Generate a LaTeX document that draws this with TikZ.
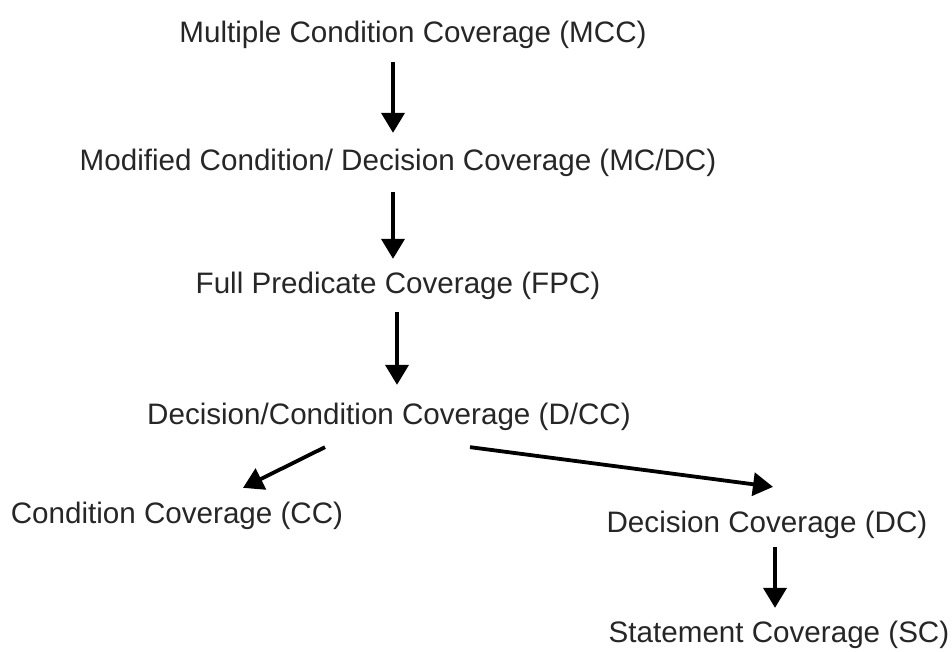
\documentclass[tikz,border=0pt]{standalone}
\usepackage{fontspec}
\setmainfont{Liberation Sans}
\usetikzlibrary{arrows.meta,calc}
\tikzset{
  lbl/.style={inner sep=0pt, anchor=base, text=black!85, font=\fontsize{29.6}{32}\selectfont},
  arr/.style={line width=3.8pt, -{Triangle[length=20pt,width=23pt]}}
}
\begin{document}
\begin{tikzpicture}[x=1pt,y=-1pt]
\useasboundingbox (0,0) rectangle (952,651);
\node[lbl] (mcc)  at (413,42)  {Multiple Condition Coverage (MCC)};
\node[lbl] (mcdc) at (398,170) {Modified Condition/ Decision Coverage (MC/DC)};
\node[lbl] (fpc)  at (398,293) {Full Predicate Coverage (FPC)};
\node[lbl] (dcc)  at (389,424) {Decision/Condition Coverage (D/CC)};
\node[lbl] (cc)   at (177,523) {Condition Coverage (CC)};
\node[lbl] (dc)   at (767,532) {Decision Coverage (DC)};
\node[lbl] (sc)   at (779,642) {Statement Coverage (SC)};
\draw[arr] ($(mcc.south)+(-20,13.8)$) -- ($(mcdc.north)+(-5,-15.5)$);
\draw[arr] ($(mcdc.south)+(-5,15.8)$) -- ($(fpc.north)+(-5,-12.5)$);
\draw[arr] ($(fpc.south)+(-1,13)$) -- ($(dcc.north)+(8,-17.5)$);
\draw[arr] ($(dcc.south)+(-64,16.8)$) -- ($(cc.north)+(66,-13.5)$);
\draw[arr] ($(dcc.south)+(81,16.8)$) -- ($(dc.north)+(6,-23.5)$);
\draw[arr] ($(dc.south)+(8,8.8)$) -- ($(sc.north)+(-4,-12.5)$);
\end{tikzpicture}
\end{document}
